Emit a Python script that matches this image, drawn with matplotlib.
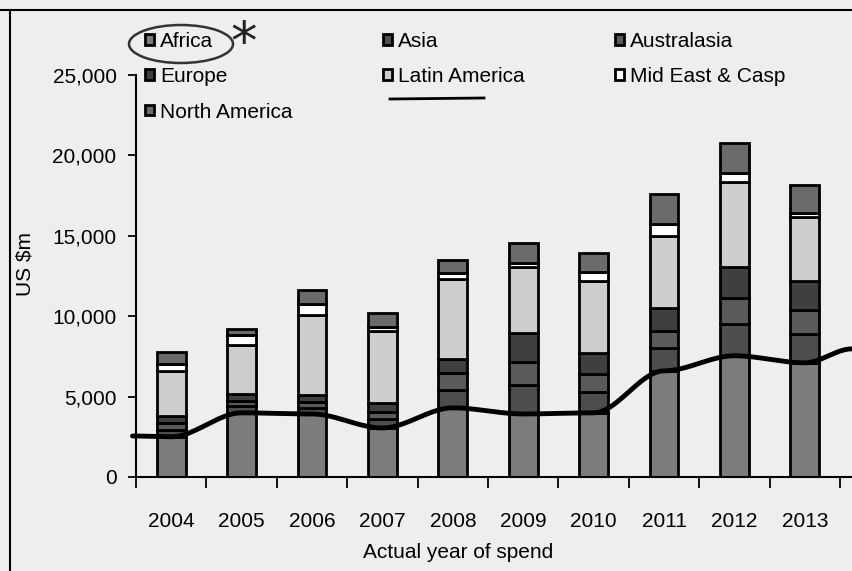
import matplotlib
matplotlib.use("Agg")
import matplotlib.pyplot as plt
from matplotlib.patches import Ellipse
from matplotlib.lines import Line2D
import numpy as np

plt.rcParams['font.family'] = ['Liberation Sans', 'DejaVu Sans']

# ------- Data (US $m) -------
years = ['2004', '2005', '2006', '2007', '2008', '2009', '2010', '2011', '2012', '2013']
regions = ['Africa', 'Asia', 'Australasia', 'Europe', 'Latin America', 'Mid East & Casp', 'North America']

africa = [2500, 3990, 3920, 3050, 4300, 3920, 3990, 6600, 7540, 7100]
asia = [450, 400, 400, 550, 1100, 1800, 1300, 1400, 2000, 1800]
australasia = [400, 350, 350, 450, 1080, 1450, 1100, 1100, 1600, 1500]
europe = [450, 430, 440, 560, 870, 1800, 1340, 1430, 1940, 1810]
latin_america = [2800, 3050, 4980, 4490, 4990, 4110, 4480, 4480, 5240, 3930]
mid_east = [440, 630, 690, 250, 370, 250, 560, 750, 560, 250]
north_america = [750, 370, 870, 870, 810, 1250, 1180, 1810, 1870, 1740]

# hand-drawn trace over the Africa level (runs a bit past both ends of the axis)
trace_x = [-0.55, 0, 1, 2, 3, 4, 5, 6, 7, 8, 9, 9.67]
trace_y = [2550, 2500, 3990, 3920, 3050, 4300, 3920, 3990, 6600, 7540, 7100, 7970]

series = [africa, asia, australasia, europe, latin_america, mid_east, north_america]
colors = ['#7c7c7c', '#4d4d4d', '#5a5a5a', '#3f3f3f', '#cdcdcd', '#ffffff', '#6b6b6b']

# ------- Figure -------
W, H = 852, 571
fig = plt.figure(figsize=(W / 100, H / 100), dpi=100, facecolor='#eeeeee')
ax = fig.add_axes([136 / W, 1 - 477 / H, 1 - 136 / W, (477 - 75) / H])
ax.set_facecolor('none')

x = np.arange(len(years))
bottom = np.zeros(len(years))
bars = []
for name, vals, c in zip(regions, series, colors):
    b = ax.bar(x, vals, 0.41, bottom=bottom, color=c, edgecolor='black', linewidth=2, label=name, zorder=2)
    bars.append(b)
    bottom += np.array(vals)

# smooth hand trace between the points
tx, ty = [], []
for i in range(len(trace_x) - 1):
    t = np.linspace(0, 1, 25)
    s = t * t * (3 - 2 * t)
    tx.extend(trace_x[i] + (trace_x[i + 1] - trace_x[i]) * t)
    ty.extend(trace_y[i] + (trace_y[i + 1] - trace_y[i]) * s)
ax.plot(tx, ty, color='black', linewidth=3.5, solid_capstyle='round', zorder=3, clip_on=False)

ax.set_xlim(-0.5, 9.67)
ax.set_ylim(0, 25000)
ax.set_yticks(range(0, 25001, 5000))
ax.set_yticklabels([f'{v:,}' for v in range(0, 25001, 5000)], fontsize=15)
ax.set_xticks(x)
ax.set_xticklabels(years, fontsize=15)
ax.set_xticks(np.arange(-0.5, 10, 1), minor=True)
ax.tick_params(axis='x', which='major', length=0, pad=25)
ax.tick_params(axis='x', which='minor', length=8, width=1.3, direction='out')
ax.tick_params(axis='y', length=6, width=1.3, direction='out', pad=8)
for s in ['top', 'right']:
    ax.spines[s].set_visible(False)
ax.spines['left'].set_linewidth(1.5)
ax.spines['bottom'].set_linewidth(1.5)

ax.set_xlabel('Actual year of spend', fontsize=15)
ax.xaxis.set_label_coords(0.45, -0.165)
ax.set_ylabel('US $m', fontsize=15)
ax.yaxis.set_label_coords(-0.142, 0.53)

# legend, row-wise like the original
order = [0, 3, 6, 1, 4, 2, 5]
leg = ax.legend([bars[i] for i in order], [regions[i] for i in order], ncol=3,
                loc='upper left', bbox_to_anchor=(145 / W, 1 - 32 / H), bbox_transform=fig.transFigure,
                frameon=False, fontsize=15, handlelength=0.42, handleheight=0.42, handletextpad=0.3,
                labelspacing=0.78, columnspacing=4.35, borderpad=0, borderaxespad=0)

# pen marks on the scan: ring round Africa, asterisk, underline
fig.add_artist(Ellipse((181 / W, 1 - 44 / H), 104 / W, 38 / H, transform=fig.transFigure,
                       fill=False, edgecolor='#333333', linewidth=1.8))
fig.text(244 / W, 1 - 44 / H, '*', fontsize=38, ha='center', va='center', color='#222222',
         family='DejaVu Sans')
fig.add_artist(Line2D([390 / W, 484 / W], [1 - 99 / H, 1 - 98 / H], transform=fig.transFigure,
                      color='black', linewidth=2))

# border of the scanned frame
fig.add_artist(Line2D([0, 1], [1 - 10 / H, 1 - 10 / H], transform=fig.transFigure, color='black', linewidth=1.5))
fig.add_artist(Line2D([10 / W, 10 / W], [0, 1 - 10 / H], transform=fig.transFigure, color='black', linewidth=1.5))

fig.savefig('out.png', dpi=100, facecolor=fig.get_facecolor())
